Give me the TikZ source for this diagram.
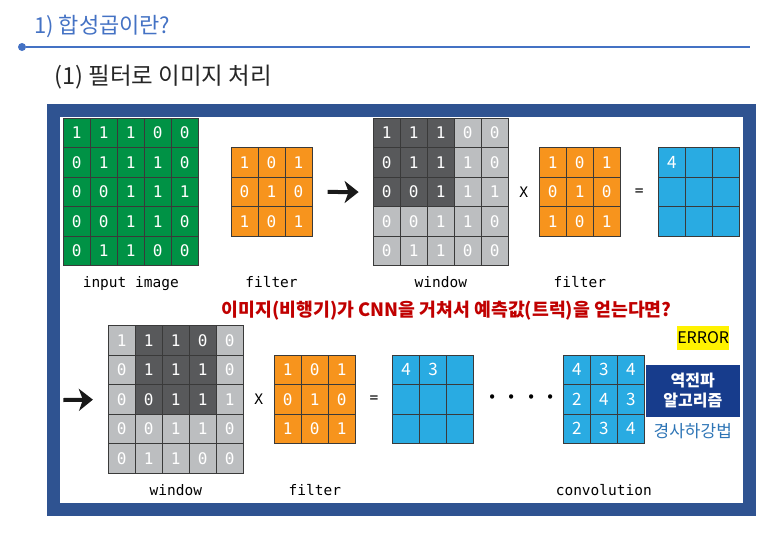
\documentclass[tikz,border=0pt]{standalone}
\usepackage{fontspec}
\setmainfont{Noto Sans CJK KR}
\setmonofont{DejaVu Sans Mono}
\usepackage{tikz}
\usetikzlibrary{arrows.meta,positioning,calc}

\definecolor{frameblue}{HTML}{2F5391}
\definecolor{titleblue}{HTML}{4472C4}
\definecolor{subgray}{HTML}{262626}
\definecolor{ingreen}{HTML}{009245}
\definecolor{filtorange}{HTML}{F7941D}
\definecolor{outblue}{HTML}{29ABE2}
\definecolor{winD}{HTML}{58595B}
\definecolor{winL}{HTML}{BCBEC0}
\definecolor{gridline}{HTML}{3A3A3A}
\definecolor{navy}{HTML}{173C8C}
\definecolor{qred}{HTML}{C00000}
\definecolor{gdblue}{HTML}{2E75B6}

% name, left, top, cell style, fill, first dark column, rows
\newcommand{\numgrid}[7]{%
  \foreach \row [count=\ri from 0] in {#7} {
    \foreach \d [count=\ci from 0] in \row {
      \pgfmathtruncatemacro\dk{(\ri<3)&&(\ci>=#6)&&(\ci<#6+3)}
      \ifnum\dk=1 \def\fc{winD}\else\def\fc{#5}\fi
      \node[cell, #4, fill=\fc] (#1-\ri-\ci) at ({#2+27*\ci+13.5},{#3+29.5*\ri+14.75}) {\d};
    }
  }%
}

\begin{document}
\begin{tikzpicture}[x=1pt, y=-1pt,
  cell/.style={draw=gridline, line width=0.8pt, minimum width=27pt, minimum height=29.5pt, inner sep=0pt, text=white},
  monocell/.style={font=\ttfamily\fontsize{16}{16}\selectfont},
  outcell/.style={font=\fontsize{17}{17}\selectfont},
  lbl/.style={font=\ttfamily\fontsize{14.5}{14.5}\selectfont, anchor=base, inner sep=0pt},
  op/.style={font=\ttfamily\fontsize{14.5}{14.5}\selectfont, inner sep=0pt},
  bigarrow/.style={-{Stealth[length=14pt,width=22pt,inset=4pt]}, line width=4pt, black!90}]

\useasboundingbox (0,0) rectangle (784,542);

% heading
\node[anchor=west, text=titleblue, inner sep=0pt, font=\fontsize{22}{22}\selectfont] (title) at (34,26) {1) 합성곱이란?};
\node[circle, fill=titleblue, inner sep=0pt, minimum size=8pt] (dot) at (22,47) {};
\coordinate (lineend) at (750,47);
\draw[titleblue, line width=1.6pt] (dot) -- (lineend);
\node[anchor=west, text=subgray, inner sep=0pt, font=\fontsize{23.5}{23.5}\selectfont] (sub) at (54,77) {(1) 필터로 이미지 처리};

% panel
\draw[frameblue, line width=12.5pt] (53.6,110.5) rectangle (749.6,509.5);

% first row
\numgrid{in}{63.3}{118.3}{monocell}{ingreen}{-9}{{1,1,1,0,0},{0,1,1,1,0},{0,0,1,1,1},{0,0,1,1,0},{0,1,1,0,0}}
\numgrid{fa}{231}{147.7}{monocell}{filtorange}{-9}{{1,0,1},{0,1,0},{1,0,1}}
\numgrid{wa}{373.3}{118.3}{monocell}{winL}{0}{{1,1,1,0,0},{0,1,1,1,0},{0,0,1,1,1},{0,0,1,1,0},{0,1,1,0,0}}
\numgrid{fb}{539.3}{147.7}{monocell}{filtorange}{-9}{{1,0,1},{0,1,0},{1,0,1}}
\numgrid{oa}{658.3}{147.7}{outcell}{outblue}{-9}{{4,{},{}},{{},{},{}},{{},{},{}}}

\node[lbl] (inlbl) at ([yshift=-21pt]in-4-2.south) {input image};
\node[lbl] (falbl) at (fa-2-1 |- inlbl.base) {filter};
\node[lbl] (walbl) at (wa-4-2 |- inlbl.base) {window};
\node[lbl] (fblbl) at (fb-2-1 |- inlbl.base) {filter};

\draw[bigarrow, shorten <=15.3pt, shorten >=14.3pt] (fa-1-2.east) -- (wa-2-0.west);
\node[op] (xa) at ($(wa-2-4.east)!0.5!(fb-1-0.west)$) {X};
\node[op] (eqa) at ($(fb-1-2.east)!0.5!(oa-1-0.west)$) {=};

% question
\node[font=\bfseries\fontsize{18.3}{18.3}\selectfont, text=qred] (question) at (446.7,310.5) {이미지(비행기)가 CNN을 거쳐서 예측값(트럭)을 얻는다면?};

% second row
\coordinate (rowstart) at (63.3,400);
\numgrid{wb}{108.3}{325.7}{monocell}{winL}{1}{{1,1,1,0,0},{0,1,1,1,0},{0,0,1,1,1},{0,0,1,1,0},{0,1,1,0,0}}
\numgrid{fc}{274.3}{355}{monocell}{filtorange}{-9}{{1,0,1},{0,1,0},{1,0,1}}
\numgrid{ob}{392.7}{355}{outcell}{outblue}{-9}{{4,3,{}},{{},{},{}},{{},{},{}}}
\numgrid{oc}{563.3}{355}{outcell}{outblue}{-9}{{4,3,4},{2,4,3},{2,3,4}}

\draw[bigarrow, shorten >=15pt] (rowstart) -- (wb-2-0.west);
\node[op] (xb) at ($(wb-2-4.east)!0.5!(fc-1-0.west)$) {X};
\node[op] (eqb) at ($(fc-1-2.east)!0.5!(ob-1-0.west)$) {=};
\node[font=\bfseries\fontsize{20}{20}\selectfont, xshift=3pt] (dots) at ($(ob-1-2.east)!0.5!(oc-1-0.west)$) {·\hspace{7pt}·\hspace{7pt}·\hspace{7pt}·};

\node[lbl] (wblbl) at ([yshift=-22.3pt]wb-4-2.south) {window};
\node[lbl] (fclbl) at (fc-2-1 |- wblbl.base) {filter};
\node[lbl] (convlbl) at (oc-2-1 |- wblbl.base) {convolution};

% error side
\node[fill=yellow, minimum width=51.7pt, minimum height=24.3pt, inner sep=0pt, font=\fontsize{16}{16}\selectfont] (err) at (703.2,337.8) {ERROR};
\node[fill=navy, text=white, align=center, minimum width=94.3pt, minimum height=51.7pt, inner sep=0pt, font=\bfseries\fontsize{16}{20}\selectfont] (bp) at (692.8,390.8) {역전파\\알고리즘};
\node[below=6pt of bp, text=gdblue, font=\fontsize{17}{17}\selectfont, inner sep=0pt] (gd) {경사하강법};
\end{tikzpicture}
\end{document}
